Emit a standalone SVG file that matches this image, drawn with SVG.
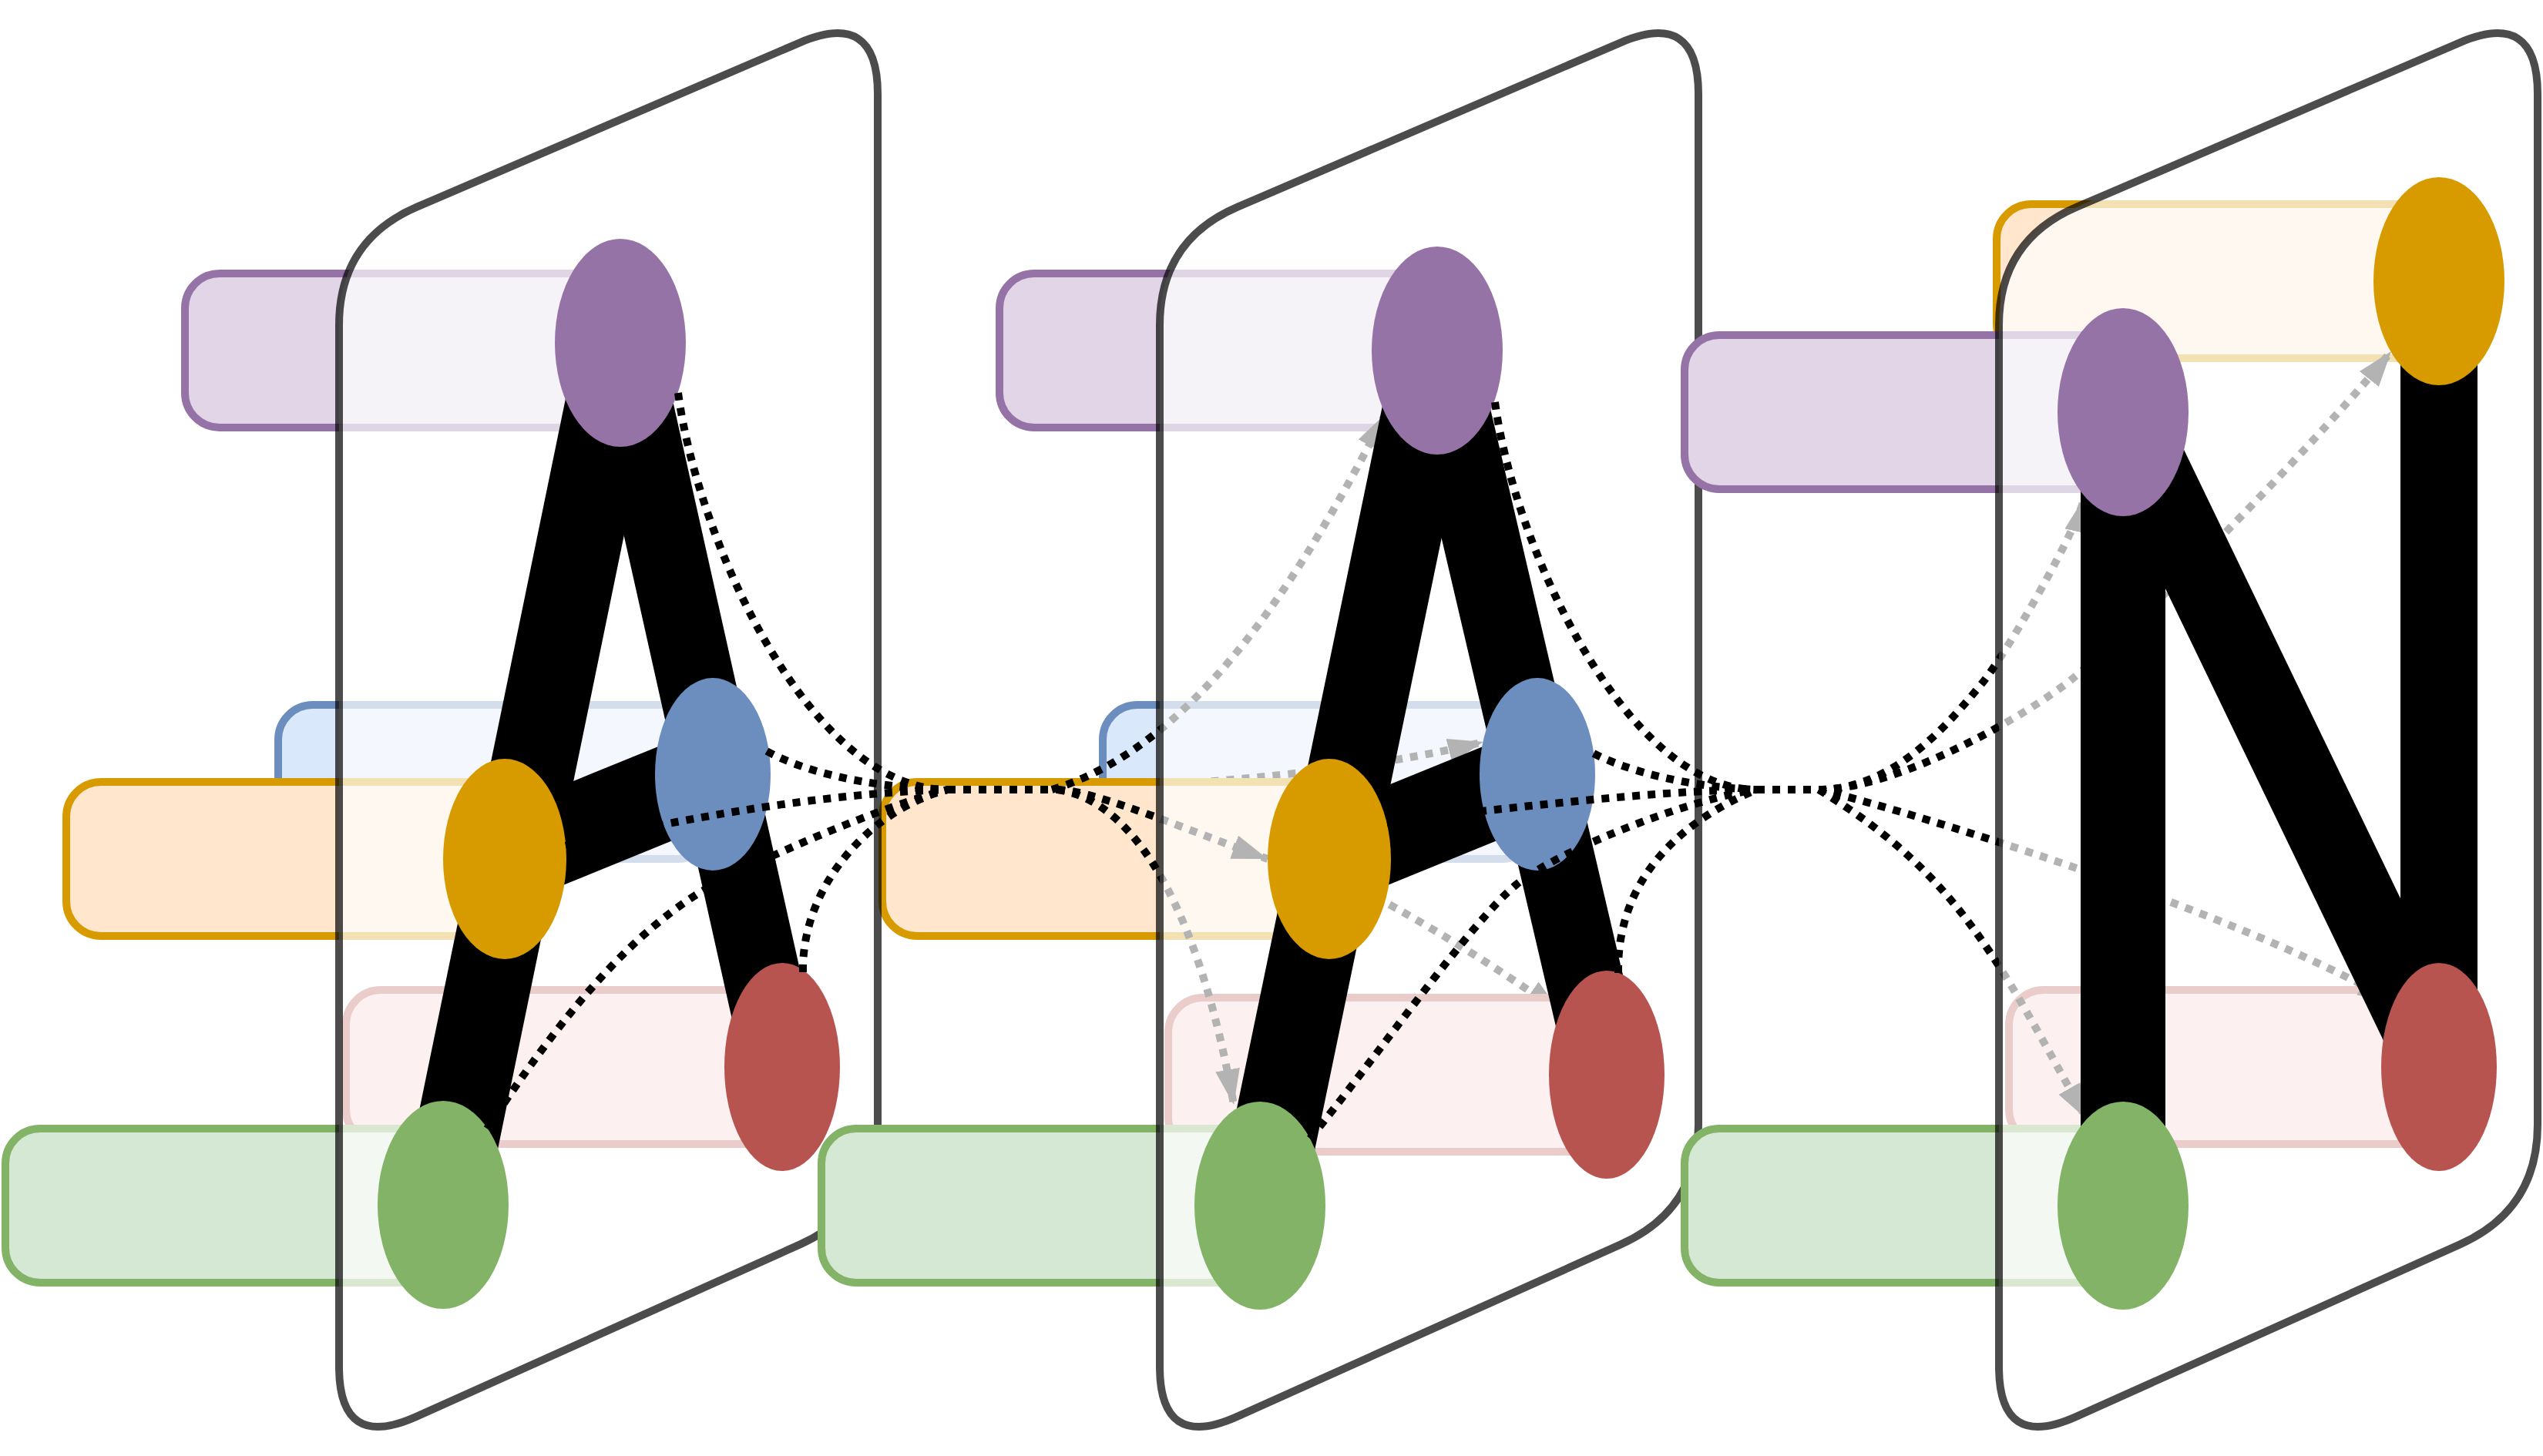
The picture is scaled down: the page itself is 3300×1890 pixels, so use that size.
<svg xmlns="http://www.w3.org/2000/svg" width="3300" height="1890" viewBox="0 0 3300 1890">
<style>
.panel{fill:#fff;fill-opacity:.7;stroke:#000;stroke-opacity:.7;stroke-width:10;stroke-linejoin:round}
.box{stroke-width:10}
.pu{fill:#E1D5E7;stroke:#9673A6}
.bl{fill:#DAE8FC;stroke:#6C8EBF}
.or{fill:#FFE6CC;stroke:#D79B00}
.re{fill:#F8CECC;stroke:#B85450}
.gr{fill:#D5E8D4;stroke:#82B366}
.epu{fill:#9673A6}.ebl{fill:#6C8EBF}.eor{fill:#D79B00}.ere{fill:#B85450}.egr{fill:#82B366}
.bar{stroke:#000;fill:none}
.dot{fill:none;stroke:#000;stroke-width:10;stroke-dasharray:10 10}
.arr{marker-end:url(#ah)}
</style>
<defs>
<marker id="ah" viewBox="0 0 46 32" refX="46" refY="16" markerWidth="46" markerHeight="32" markerUnits="userSpaceOnUse" orient="auto"><path d="M0,0L46,16L0,32Z" fill="#000"/></marker>
</defs>
<rect width="3300" height="1890" fill="#fff"/>

<!-- panel 1 boxes -->
<g id="box-purple-1"><rect class="box pu" x="240" y="355" width="565" height="200" rx="45"/></g>
<g id="box-blue-1"><rect class="box bl" x="361" y="915" width="564" height="200" rx="45"/></g>
<g id="box-orange-1"><rect class="box or" x="86" y="1015" width="569" height="200" rx="45"/></g>
<g id="box-red-1"><rect class="box re" x="449" y="1285" width="566" height="200" rx="45"/></g>
<g id="box-green-1"><rect class="box gr" x="7" y="1465" width="568" height="200" rx="45"/></g>
<g id="box-blue-2"><rect class="box bl" x="1431" y="915" width="564" height="200" rx="45"/></g>

<g id="connectors-1-2-under">
<path class="dot arr" d="M1372,1025 C1550,1020 1780,1000 1925,963"/>
<path class="dot arr" d="M1372,1025 C1500,1030 1720,1100 2025,1314"/>
</g>

<g id="box-orange-2"><rect class="box or" x="1145" y="1015" width="580" height="200" rx="45"/></g>

<g id="panel-1"><path class="panel" d="M440,422 Q440,312 541,268.7 L1038,55.3 Q1139,12 1139,122 L1139,1460 Q1139,1570 1038.7,1615.1 L540.3,1838.9 Q440,1884 440,1774 Z"/></g>

<g id="letter-A-1" class="bar">
<line x1="805" y1="445" x2="575" y2="1564" stroke-width="110"/>
<line x1="805" y1="445" x2="1015" y2="1385" stroke-width="100"/>
<line x1="655" y1="1115" x2="925" y2="1005" stroke-width="120"/>
</g>
<g id="node-purple-1"><ellipse class="epu" cx="805" cy="445" rx="85" ry="135"/></g>
<g id="node-blue-1"><ellipse class="ebl" cx="925" cy="1005" rx="75" ry="125"/></g>
<g id="node-orange-1"><ellipse class="eor" cx="655" cy="1115" rx="80" ry="130"/></g>
<g id="node-red-1"><ellipse class="ere" cx="1015" cy="1385" rx="75" ry="135"/></g>
<g id="node-green-1"><ellipse class="egr" cx="575" cy="1564" rx="85" ry="135"/></g>

<!-- panel 2 boxes -->
<g id="box-purple-2"><rect class="box pu" x="1297" y="355" width="568" height="200" rx="45"/></g>
<g id="box-red-2"><rect class="box re" x="1516" y="1295" width="569" height="200" rx="45"/></g>
<g id="box-green-2"><rect class="box gr" x="1066" y="1465" width="569" height="200" rx="45"/></g>

<g id="connectors-1-2">
<path class="dot" d="M880,510 C905,700 1050,1025 1230,1025"/>
<path class="dot" d="M995,975 C1040,1000 1120,1022 1230,1025"/>
<path class="dot" d="M734,1098 C850,1070 1050,1030 1230,1025"/>
<path class="dot" d="M632,1465 C708,1350 800,1225 909,1158 C985,1114 1150,1045 1230,1025"/>
<path class="dot" d="M1042,1262 C1040,1150 1130,1050 1230,1025"/>
<path class="dot" d="M1230,1025 L1372,1025"/>
<path class="dot arr" d="M1365,1025 C1565,965 1706,715 1798,537"/>
<path class="dot arr" d="M1372,1025 C1420,1025 1560,1085 1645,1115"/>
<path class="dot arr" d="M1372,1025 C1480,1040 1560,1200 1601,1434"/>
</g>

<g id="panel-2"><path class="panel" d="M1505,422 Q1505,312 1606,268.7 L2103,55.3 Q2204,12 2204,122 L2204,1460 Q2204,1570 2103.7,1615.1 L1605.3,1838.9 Q1505,1884 1505,1774 Z"/></g>

<g id="letter-A-2" class="bar">
<line x1="1865" y1="455" x2="1635" y2="1565" stroke-width="110"/>
<line x1="1865" y1="455" x2="2085" y2="1395" stroke-width="100"/>
<line x1="1725" y1="1115" x2="1995" y2="1005" stroke-width="120"/>
</g>
<g id="node-purple-2"><ellipse class="epu" cx="1865" cy="455" rx="85" ry="135"/></g>
<g id="node-blue-2"><ellipse class="ebl" cx="1995" cy="1005" rx="75" ry="125"/></g>
<g id="node-orange-2"><ellipse class="eor" cx="1725" cy="1115" rx="80" ry="130"/></g>
<g id="node-red-2"><ellipse class="ere" cx="2085" cy="1395" rx="75" ry="135"/></g>
<g id="node-green-2"><ellipse class="egr" cx="1635" cy="1565" rx="85" ry="135"/></g>

<!-- panel 3 boxes -->
<g id="box-orange-3"><rect class="box or" x="2591" y="265" width="574" height="200" rx="45"/></g>
<g id="box-purple-3"><rect class="box pu" x="2186" y="435" width="569" height="200" rx="45"/></g>
<g id="box-red-3"><rect class="box re" x="2607" y="1285" width="558" height="200" rx="45"/></g>
<g id="box-green-3"><rect class="box gr" x="2186" y="1465" width="569" height="200" rx="45"/></g>

<g id="connectors-2-3">
<path class="dot" d="M1940,522 C1965,710 2110,1025 2280,1025"/>
<path class="dot" d="M2068,978 C2110,1000 2190,1022 2280,1025"/>
<path class="dot" d="M1800,1068 C1900,1055 2150,1025 2280,1025"/>
<path class="dot" d="M1700,1478 C1780,1380 1910,1195 1968,1148 C2026,1101 2200,1035 2280,1025"/>
<path class="dot" d="M2100,1263 C2098,1150 2170,1070 2280,1025"/>
<path class="dot" d="M2280,1025 L2360,1025"/>
<path class="dot arr" d="M2360,1025 C2460,1025 2532,935 2572,887 C2602,851 2695,690 2705,645"/>
<path class="dot arr" d="M2360,1025 C2460,1025 2630,930 2692,879 C2792,797 3033,544 3103,456"/>
<path class="dot arr" d="M2360,1025 C2450,1045 2900,1180 3106,1301"/>
<path class="dot arr" d="M2360,1025 C2548,1138 2600,1262 2708,1453"/>
</g>

<g id="panel-3"><path class="panel" d="M2594,422 Q2594,312 2695,268.7 L3192,55.3 Q3293,12 3293,122 L3293,1460 Q3293,1570 3192.7,1615.1 L2694.3,1838.9 Q2594,1884 2594,1774 Z"/></g>

<g id="letter-N" class="bar">
<line x1="2755" y1="535" x2="2755" y2="1565" stroke-width="110"/>
<line x1="2755" y1="535" x2="3165" y2="1385" stroke-width="100"/>
<line x1="3165" y1="365" x2="3165" y2="1385" stroke-width="100"/>
</g>
<g id="node-orange-3"><ellipse class="eor" cx="3165" cy="365" rx="85" ry="135"/></g>
<g id="node-purple-3"><ellipse class="epu" cx="2755" cy="535" rx="85" ry="135"/></g>
<g id="node-red-3"><ellipse class="ere" cx="3165" cy="1385" rx="75" ry="135"/></g>
<g id="node-green-3"><ellipse class="egr" cx="2755" cy="1565" rx="85" ry="135"/></g>
</svg>
